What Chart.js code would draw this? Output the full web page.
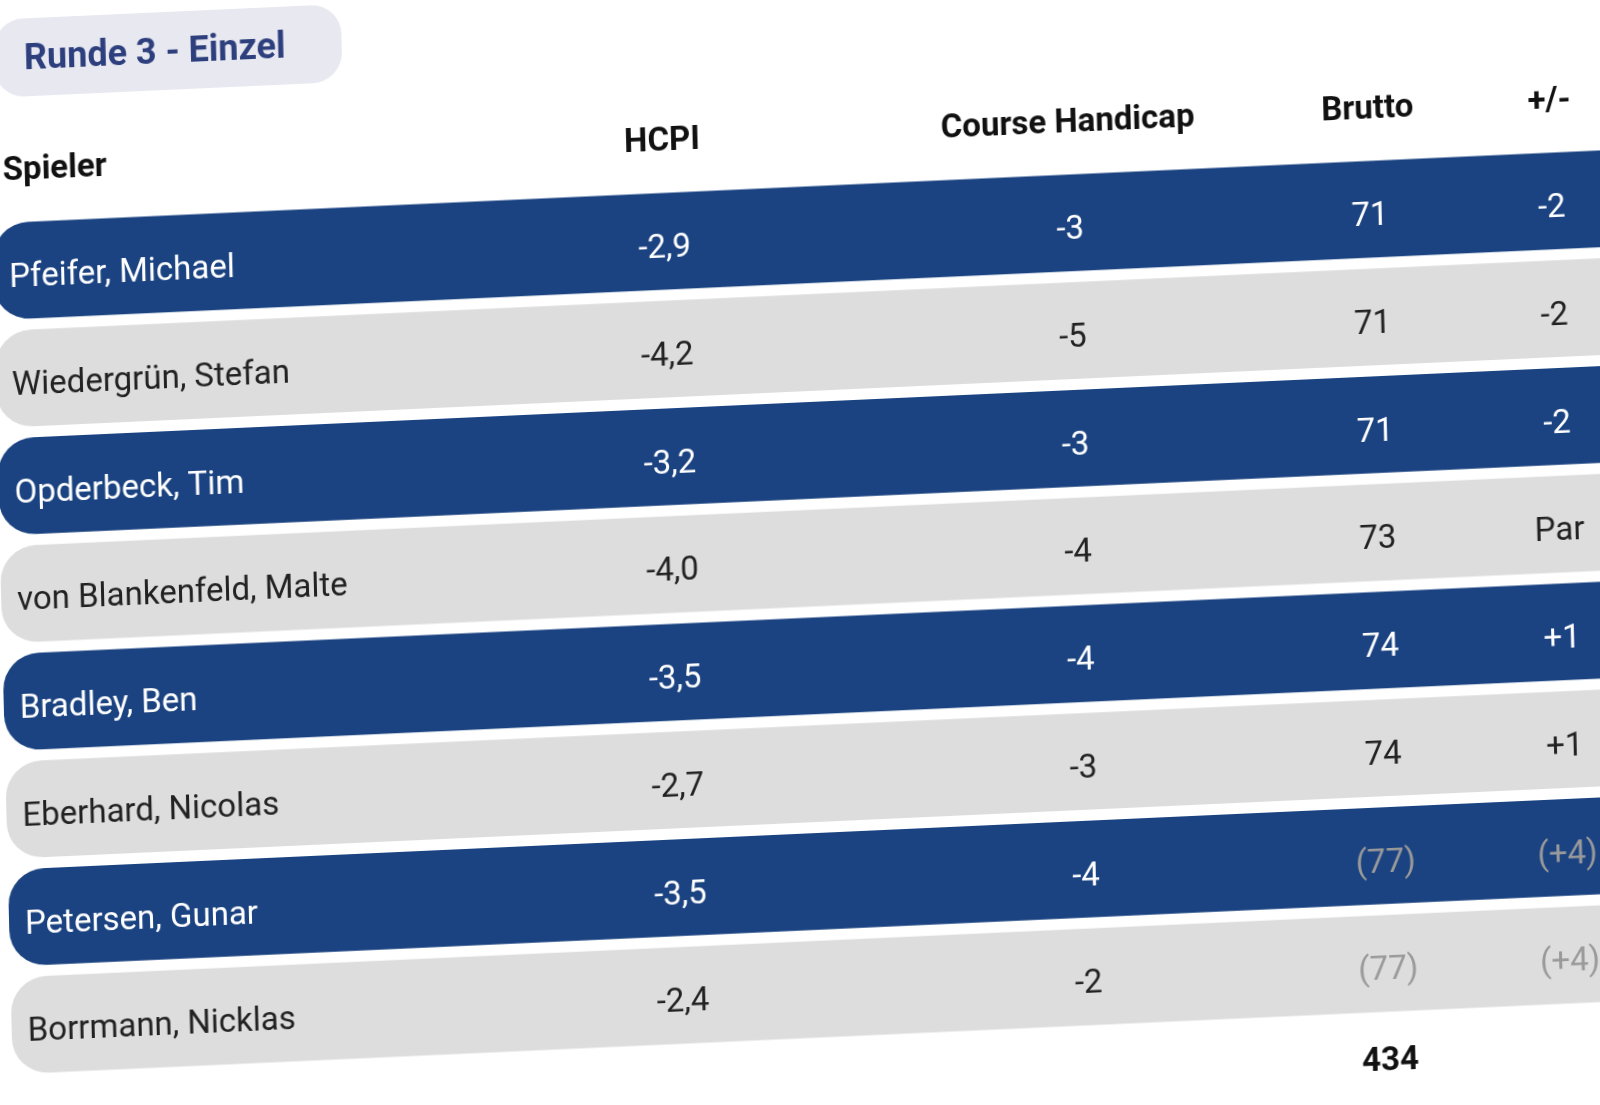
<!DOCTYPE html>
<html><head><meta charset="utf-8">
<script src="https://cdn.jsdelivr.net/npm/chart.js@4"></script>
<style>
html,body{margin:0;width:1600px;height:1105px;overflow:hidden;background:#fff;}
#wrap{position:absolute;left:-12px;top:60px;width:1720px;height:1110px;transform-origin:0 0;transform:rotate(-2.6deg) skewX(-1.2deg);}
#title{position:absolute;left:6px;top:-40px;padding:18px 56px 18px 30px;background:#e7e8f0;border-radius:30px;font:bold 36px Roboto,sans-serif;color:#2e3f7d;}
</style></head><body>
<div id="wrap"><div id="title">Runde 3 - Einzel</div><canvas id="c"></canvas></div>
<script>
const players = ['Pfeifer, Michael', 'Wiedergrün, Stefan', 'Opderbeck, Tim', 'von Blankenfeld, Malte', 'Bradley, Ben', 'Eberhard, Nicolas', 'Petersen, Gunar', 'Borrmann, Nicklas'];
const hcpi = ['-2,9', '-4,2', '-3,2', '-4,0', '-3,5', '-2,7', '-3,5', '-2,4'];
const courseHcp = ['-3', '-5', '-3', '-4', '-4', '-3', '-4', '-2'];
const brutto = ['71', '71', '71', '73', '74', '74', '(77)', '(77)'];
const plusMinus = ['-2', '-2', '-2', 'Par', '+1', '+1', '(+4)', '(+4)'];
const headers = ['Spieler', 'HCPI', 'Course Handicap', 'Brutto', '+/-'];
const bruttoTotal = '434';

const colX = [12, 672, 1078, 1378, 1560];
const blue = '#1b4381', grey = '#dddddd';

const cellText = {
  id: 'cellText',
  afterDatasetsDraw(chart) {
    const { ctx, scales: { y }, chartArea } = chart;
    ctx.save();
    ctx.textBaseline = 'middle';
    ctx.font = 'bold 33px Roboto, sans-serif';
    ctx.fillStyle = '#111';
    headers.forEach((h, i) => {
      ctx.textAlign = i === 0 ? 'left' : 'center';
      ctx.fillText(h, colX[i], chartArea.top - 45);
    });
    players.forEach((p, i) => {
      const yy = y.getPixelForValue(i) + 8;
      const dark = i % 2 === 0;
      ctx.font = '33px Roboto, sans-serif';
      ctx.fillStyle = dark ? '#fff' : '#222';
      ctx.textAlign = 'left';
      ctx.fillText(p, colX[0] + 4, yy);
      ctx.textAlign = 'center';
      ctx.fillText(hcpi[i], colX[1], yy);
      ctx.fillText(courseHcp[i], colX[2], yy);
      const muted = brutto[i].startsWith('(');
      ctx.fillStyle = muted ? '#9a9a9a' : (dark ? '#fff' : '#222');
      ctx.fillText(brutto[i], colX[3], yy);
      ctx.fillText(plusMinus[i], colX[4], yy);
    });
    ctx.font = 'bold 33px Roboto, sans-serif';
    ctx.fillStyle = '#111';
    ctx.fillText(bruttoTotal, colX[3], chartArea.bottom + 45);
    ctx.restore();
  }
};

new Chart(document.getElementById('c'), {
  type: 'bar',
  data: {
    labels: players,
    datasets: [{
      data: players.map(() => [0, 1720]),
      backgroundColor: players.map((_, i) => (i % 2 === 0 ? blue : grey)),
      borderRadius: 36,
      borderSkipped: false,
      barPercentage: 0.9,
      categoryPercentage: 1
    }]
  },
  options: {
    indexAxis: 'y',
    responsive: true,
    maintainAspectRatio: false,
    animation: false,
    layout: { padding: { top: 158, bottom: 90, left: 0, right: 0 } },
    plugins: { legend: { display: false }, tooltip: { enabled: false } },
    scales: {
      x: { display: false, min: 0, max: 1720 },
      y: { display: false }
    }
  },
  plugins: [cellText]
});
</script>
</body></html>
